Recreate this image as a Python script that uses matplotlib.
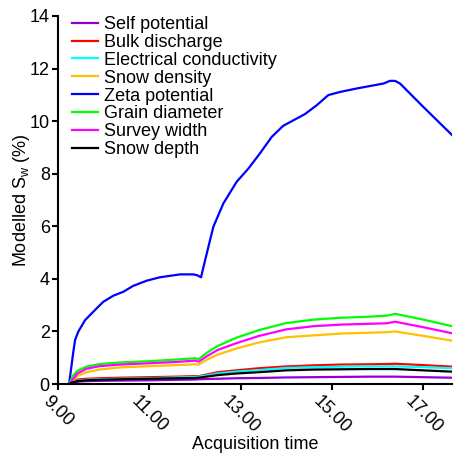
import matplotlib

matplotlib.use("Agg")
import matplotlib.pyplot as plt

plt.rcParams["font.family"] = ["Liberation Sans", "DejaVu Sans"]

# time grid (decimal hours) shared by the small series
times = [9.24, 9.32, 9.42, 9.62, 9.91, 10.35, 11.0, 11.6, 12.0, 12.08, 12.25,
         12.5, 12.9, 13.4, 14.0, 14.6, 15.2, 15.8, 16.2, 16.38, 17.0, 17.63]

self_potential = [0, 0.05, 0.09, 0.11, 0.12, 0.13, 0.14, 0.16, 0.17, 0.18, 0.19,
                  0.2, 0.22, 0.23, 0.25, 0.26, 0.27, 0.28, 0.28, 0.28, 0.26, 0.24]
bulk_discharge = [0, 0.08, 0.17, 0.2, 0.22, 0.24, 0.26, 0.28, 0.3, 0.3, 0.36,
                  0.45, 0.52, 0.6, 0.67, 0.71, 0.74, 0.75, 0.76, 0.77, 0.72, 0.66]
conductivity = [0, 0.07, 0.13, 0.16, 0.18, 0.2, 0.22, 0.25, 0.27, 0.28, 0.32,
                0.4, 0.47, 0.53, 0.61, 0.64, 0.66, 0.67, 0.67, 0.67, 0.64, 0.6]
snow_density = [0, 0.12, 0.3, 0.45, 0.55, 0.63, 0.68, 0.72, 0.75, 0.74, 0.92,
                1.12, 1.35, 1.58, 1.78, 1.85, 1.92, 1.95, 1.97, 2.0, 1.83, 1.65]
grain_diameter = [0, 0.3, 0.5, 0.66, 0.76, 0.82, 0.87, 0.93, 0.98, 0.95, 1.18,
                  1.45, 1.76, 2.05, 2.32, 2.45, 2.52, 2.56, 2.6, 2.67, 2.45, 2.2]
survey_width = [0, 0.17, 0.4, 0.58, 0.68, 0.74, 0.79, 0.84, 0.89, 0.85, 1.05,
                1.3, 1.55, 1.83, 2.08, 2.2, 2.26, 2.29, 2.31, 2.37, 2.16, 1.93]
snow_depth = [0, 0.06, 0.11, 0.14, 0.16, 0.18, 0.2, 0.22, 0.23, 0.24, 0.28,
              0.34, 0.4, 0.45, 0.52, 0.55, 0.56, 0.57, 0.57, 0.57, 0.52, 0.47]

# zeta potential sampled more finely
zeta_times = [9.24, 9.33, 9.37, 9.44, 9.59, 9.77, 9.99, 10.21, 10.43, 10.64,
              10.94, 11.23, 11.67, 11.96, 12.04, 12.13, 12.22, 12.40, 12.62,
              12.91, 13.17, 13.42, 13.68, 13.93, 14.23, 14.41, 14.67, 14.92,
              15.18, 15.54, 16.13, 16.27, 16.38, 16.49, 17.0, 17.63]
zeta_potential = [0, 1.2, 1.67, 1.99, 2.43, 2.75, 3.13, 3.36, 3.51, 3.73, 3.93,
                  4.06, 4.17, 4.17, 4.14, 4.06, 4.71, 5.98, 6.87, 7.69, 8.2,
                  8.77, 9.40, 9.82, 10.10, 10.27, 10.61, 10.99, 11.11, 11.24,
                  11.43, 11.53, 11.53, 11.43, 10.54, 9.47]

xticks = [9, 11, 13, 15, 17]
xtick_labels = ["9.00", "11.00", "13.00", "15.00", "17.00"]

fig = plt.figure(figsize=(4.58, 4.55), dpi=100)
ax = fig.add_axes([0.127, 0.156, 0.86, 0.809])

lw = 1.6
ax.plot(times, self_potential, color="#9400d3", lw=lw, label="Self potential")
ax.plot(times, bulk_discharge, color="#ff0000", lw=lw, label="Bulk discharge")
ax.plot(times, conductivity, color="#00ffff", lw=lw, label="Electrical conductivity")
ax.plot(times, snow_density, color="#ffc000", lw=lw, label="Snow density")
ax.plot(zeta_times, zeta_potential, color="#0000ff", lw=lw, label="Zeta potential")
ax.plot(times, grain_diameter, color="#00ff00", lw=lw, label="Grain diameter")
ax.plot(times, survey_width, color="#ff00ff", lw=lw, label="Survey width")
ax.plot(times, snow_depth, color="#000000", lw=lw, label="Snow depth")

ax.set_xlim(9, 17.63)
ax.set_ylim(0, 14)
ax.set_yticks(range(0, 15, 2))
ax.set_xticks(xticks)
ax.set_xticklabels(xtick_labels, rotation=-45, ha="center", va="top")

for s in ["top", "right"]:
    ax.spines[s].set_visible(False)
for s in ["left", "bottom"]:
    ax.spines[s].set_linewidth(1.5)
ax.tick_params(direction="out", length=4, width=1.5, labelsize=13, pad=2)

ax.set_xlabel("Acquisition time", fontsize=13, labelpad=0)
ax.set_ylabel(r"Modelled S$_\mathregular{w}$ (%)", fontsize=13, labelpad=-2)

ax.legend(loc="upper left", bbox_to_anchor=(0.036, 1.0), frameon=False,
          fontsize=13, handlelength=1.4, handletextpad=0.35, labelspacing=0.05,
          borderpad=0, borderaxespad=0)

plt.savefig("out.png", dpi=100)
